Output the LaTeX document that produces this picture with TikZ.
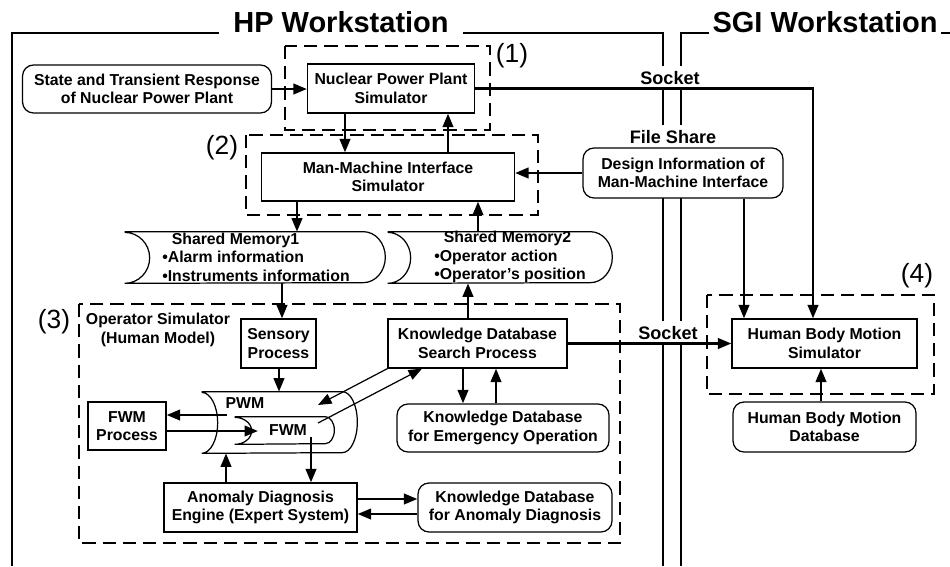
\documentclass[tikz,border=0pt]{standalone}
\usepackage{fontspec}
\setmainfont{Liberation Sans}
\usetikzlibrary{arrows.meta}

\begin{document}
\begin{tikzpicture}[
    x=0.02cm, y=-0.02cm, % one unit is one pixel of the sketch
    >={Triangle[length=2.7mm, width=2.1mm]},
    box/.style={draw, fill=white, line width=0.7pt, align=center, inner sep=1pt,
      font=\fontsize{9}{10.5}\selectfont\bfseries},
    store/.style={box, rounded corners=2.2mm},
    memory/.style={line width=0.7pt},
    memtext/.style={align=left, inner sep=1pt, font=\fontsize{9}{10.5}\selectfont\bfseries},
    group/.style={line width=1.3pt, dash pattern=on 7.5pt off 4pt},
    frame/.style={line width=1.4pt},
    title/.style={fill=white, anchor=base, font=\fontsize{16.5}{18}\selectfont\bfseries},
    part/.style={font=\fontsize{15}{17}\selectfont},
    tag/.style={fill=white, inner xsep=2pt, inner ysep=3pt, font=\fontsize{10.3}{12}\selectfont\bfseries},
    flow/.style={->, line width=1.4pt},
    thin flow/.style={->, line width=0.7pt}
  ]
  \useasboundingbox (0,0) rectangle (950,566);

  % Workstation frames
  \draw[frame] (12,566) -- (12,33) -- (663,33) -- (663,566);
  \draw[frame] (681,566) -- (681,33) -- (950,33);
  \node[title, inner xsep=0.28cm] (hp) at (341,32.5) {HP Workstation};
  \node[title, inner xsep=0.08cm] (sgi) at (825,32.5) {SGI Workstation};

  % Links between the workstations
  \node[tag] (socketa) at (670,78) {Socket};
  \node[tag] (fileshare) at (673,137) {File Share};
  \node[tag] (socketb) at (668,333) {Socket};

  % Dashed groups
  \draw[group] (285,46) rectangle (490,130);
  \draw[group] (246,135) rectangle (538,215);
  \draw[group] (79,304) rectangle (620,543);
  \draw[group] (707,295) rectangle (934,394);
  \node[part] (p1) at (512,56) {(1)};
  \node[part] (p2) at (222,148) {(2)};
  \node[part] (p3) at (54,322) {(3)};
  \node[part] (p4) at (917,276) {(4)};

  % Plant and interface simulators
  \node[store, minimum width=4.98cm, minimum height=0.96cm] (state) at (147,89) {State and Transient Response\\of Nuclear Power Plant};
  \node[box, minimum width=3.34cm, minimum height=0.98cm] (npp) at (391,88.5) {Nuclear Power Plant\\Simulator};
  \node[box, minimum width=5.06cm, minimum height=0.96cm] (mmi) at (388,177) {Man-Machine Interface\\Simulator};
  \node[store, minimum width=4cm, minimum height=1cm] (design) at (683,173) {Design Information of\\Man-Machine Interface};

  % Shared memories
  \node[minimum width=4.76cm, minimum height=1.02cm, inner sep=0] (sm1) at (244,257.5) {};
  \node[minimum width=4.04cm, minimum height=1.02cm, inner sep=0] (sm2) at (489,257.5) {};
  \node[memtext] (sm1text) at (256,257) {\hspace{0.6em}Shared Memory1\\\textbullet Alarm information\\\textbullet Instruments information};
  \node[memtext] (sm2text) at (510,257) {\hspace{0.6em}Shared Memory2\\\textbullet Operator action\\\textbullet Operator's position};

  % Operator simulator
  \node[memtext, align=center] (opsim) at (158,330) {Operator Simulator\\(Human Model)};
  \node[box, minimum width=1.5cm, minimum height=0.98cm] (sensory) at (278.5,343.5) {Sensory\\Process};
  \node[box, minimum width=3.58cm, minimum height=0.98cm] (kdsp) at (477.5,343.5) {Knowledge Database\\Search Process};
  \node[store, minimum width=4.24cm, minimum height=0.96cm] (kdeo) at (503,428) {Knowledge Database\\for Emergency Operation};
  \node[box, minimum width=1.56cm, minimum height=0.96cm] (fwmproc) at (127,426) {FWM\\Process};
  \node[box, minimum width=3.86cm, minimum height=0.98cm] (ade) at (260.5,507.5) {Anomaly Diagnosis\\Engine (Expert System)};
  \node[store, minimum width=3.88cm, minimum height=0.98cm] (kdad) at (515,507.5) {Knowledge Database\\for Anomaly Diagnosis};
  \node[minimum width=2.8cm, minimum height=1.22cm, inner sep=0] (pwm) at (272,422.5) {};
  \node[minimum width=1.8cm, minimum height=0.54cm, inner sep=0] (fwm) at (280,430.5) {};
  \node[memtext] (pwmtext) at (245,403) {PWM};
  \node[memtext] (fwmtext) at (288,430) {FWM};

  % Human body motion
  \node[box, minimum width=3.7cm, minimum height=0.98cm] (hbms) at (824.5,343.5) {Human Body Motion\\Simulator};
  \node[store, minimum width=3.66cm, minimum height=1cm] (hbmdb) at (824.5,427) {Human Body Motion\\Database};

  % Memory outlines: concave left end, round right end
  \foreach \m/\l/\r/\h in {sm1/0.5cm/0.44cm/0.51cm, sm2/0.46cm/0.44cm/0.51cm,
                           pwm/0.32cm/0.3cm/0.61cm, fwm/0.34cm/0.18cm/0.27cm}
    \draw[memory] (\m.north west) -- (\m.north east)
      arc[start angle=90, end angle=-90, x radius=\r, y radius=\h]
      -- (\m.south west)
      arc[start angle=-90, end angle=90, x radius=\l, y radius=\h];

  % Connectors
  \coordinate (pwmout) at (227,415);
  \coordinate (fwmin) at (258,431);
  \coordinate (fwmout) at (311,437);
  \coordinate (pwmin) at (318,405);
  \coordinate (fwmup) at (318,423);

  \draw[flow] (state.east) -- (state.east -| npp.west);
  \draw[flow] (345,0 |- npp.south) -- (345,0 |- mmi.north);
  \draw[flow] (448,0 |- mmi.north) -- (448,0 |- npp.south);
  \draw[flow] (design.west) -- (design.west -| mmi.east);
  \draw[flow] (npp.east) -| (813,0 |- hbms.north);
  \draw[flow] (744,0 |- design.south) -- (744,0 |- hbms.north);
  \draw[flow] (297,0 |- mmi.south) -- (297,0 |- sm1.north);
  \draw[flow] (478,0 |- sm2.north) -- (478,0 |- mmi.south);
  \draw[flow] (282,0 |- sm1.south) -- (282,0 |- sensory.north);
  \draw[flow] (468,0 |- kdsp.north) -- (468,0 |- sm2.south);
  \draw[flow] (279,0 |- sensory.south) -- (279,0 |- pwm.north);
  \draw[flow] (kdsp.east) -- (kdsp.east -| hbms.west);
  \draw[flow] (463,0 |- kdsp.south) -- (463,0 |- kdeo.north);
  \draw[flow] (496,0 |- kdeo.north) -- (496,0 |- kdsp.south);
  \draw[flow] (pwmout) -- (pwmout -| fwmproc.east);
  \draw[flow] (fwmin -| fwmproc.east) -- (fwmin);
  \draw[flow] (fwmout) -- (fwmout |- ade.north);
  \draw[flow] (226,0 |- ade.north) -- (226,0 |- pwm.south);
  \draw[flow] (ade.east |- 0,499) -- (kdad.west |- 0,499);
  \draw[flow] (kdad.west |- 0,514) -- (ade.east |- 0,514);
  \draw[flow] (821,0 |- hbmdb.north) -- (821,0 |- hbms.south);
  \draw[thin flow] (kdsp.south west) -- (pwmin);
  \draw[thin flow] (fwmup) -- (422,0 |- kdsp.south);

\end{tikzpicture}
\end{document}
